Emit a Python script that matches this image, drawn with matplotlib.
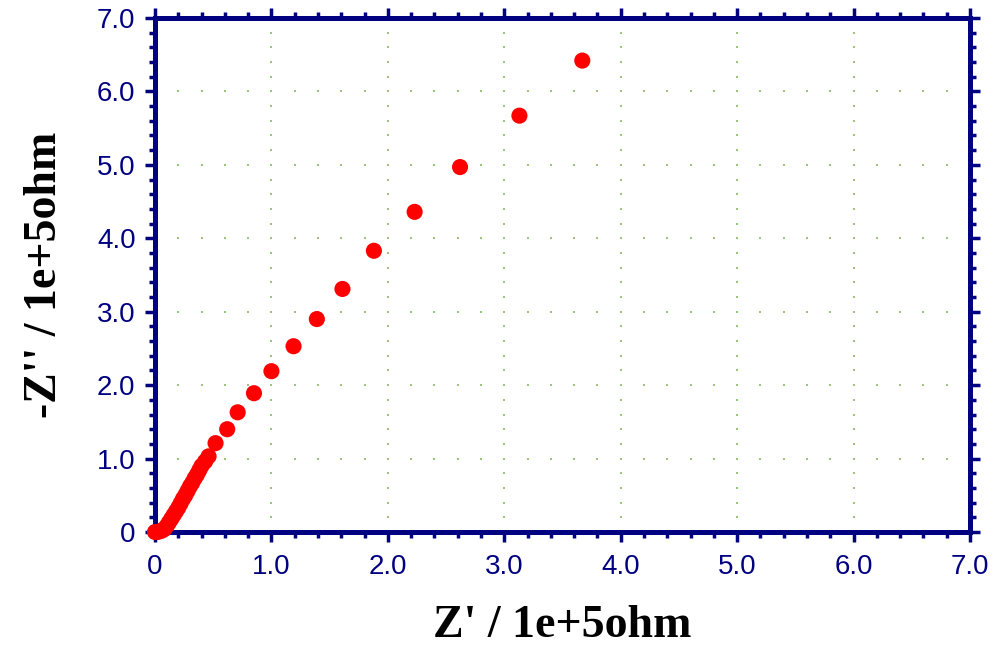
import matplotlib.pyplot as plt
import numpy as np
from matplotlib.ticker import MultipleLocator, FixedFormatter, FixedLocator

# Nyquist data, units of 1e+5 ohm
z_re = [0.00, 0.02, 0.04, 0.06, 0.08, 0.10, 0.12, 0.14, 0.16, 0.18,
        0.20, 0.22, 0.24, 0.26, 0.28, 0.30, 0.32, 0.34, 0.36, 0.38,
        0.40, 0.43, 0.46, 0.52, 0.62, 0.71, 0.85, 1.00, 1.19, 1.39,
        1.61, 1.88, 2.23, 2.62, 3.13, 3.67]
z_im = [0.00, 0.00, 0.01, 0.02, 0.04, 0.08, 0.13, 0.18, 0.23, 0.28,
        0.33, 0.39, 0.45, 0.50, 0.56, 0.62, 0.67, 0.73, 0.78, 0.84,
        0.90, 0.96, 1.03, 1.21, 1.40, 1.63, 1.89, 2.19, 2.53, 2.90,
        3.31, 3.83, 4.36, 4.97, 5.67, 6.42]

ticks = [0, 1, 2, 3, 4, 5, 6, 7]
tick_labels = ['0', '1.0', '2.0', '3.0', '4.0', '5.0', '6.0', '7.0']

navy = '#000080'

fig = plt.figure(figsize=(9.96, 6.53), dpi=100)
ax = fig.add_axes([155/996, 1-532/653, 815/996, 514/653])

# dotted grid: dots at minor spacing along each major line
minor = np.arange(0, 7.01, 0.2)
for t in ticks[1:-1]:
    ax.plot(np.full_like(minor, t), minor, ls='none', marker='s', ms=1.6,
            color='#9cc47c', mew=0)
    ax.plot(minor, np.full_like(minor, t), ls='none', marker='s', ms=1.6,
            color='#9cc47c', mew=0)

ax.scatter(z_re, z_im, s=135, color='#ff0000', edgecolors='none',
           zorder=5, clip_on=False)

ax.set_xlim(0, 7)
ax.set_ylim(0, 7)
for axis in (ax.xaxis, ax.yaxis):
    axis.set_major_locator(FixedLocator(ticks))
    axis.set_major_formatter(FixedFormatter(tick_labels))
    axis.set_minor_locator(MultipleLocator(0.2))

for sp in ax.spines.values():
    sp.set_color(navy)
    sp.set_linewidth(3.6)

ax.tick_params(which='both', direction='out', color=navy, width=2.5,
               top=True, right=True, labelcolor=navy, labelsize=20)
ax.tick_params(which='major', length=7)
ax.tick_params(which='minor', length=4)
ax.tick_params(axis='x', which='major', pad=9)
ax.tick_params(axis='y', which='major', pad=7)
for lab in ax.get_xticklabels() + ax.get_yticklabels():
    lab.set_family(['Liberation Sans', 'DejaVu Sans'])

ax.set_xlabel("Z' / 1e+5ohm", family='Liberation Serif', weight='bold',
              fontsize=33, labelpad=18)
ax.set_ylabel("-Z'' / 1e+5ohm", family='Liberation Serif', weight='bold',
              fontsize=33, labelpad=22)

fig.savefig('out.png', dpi=100)
